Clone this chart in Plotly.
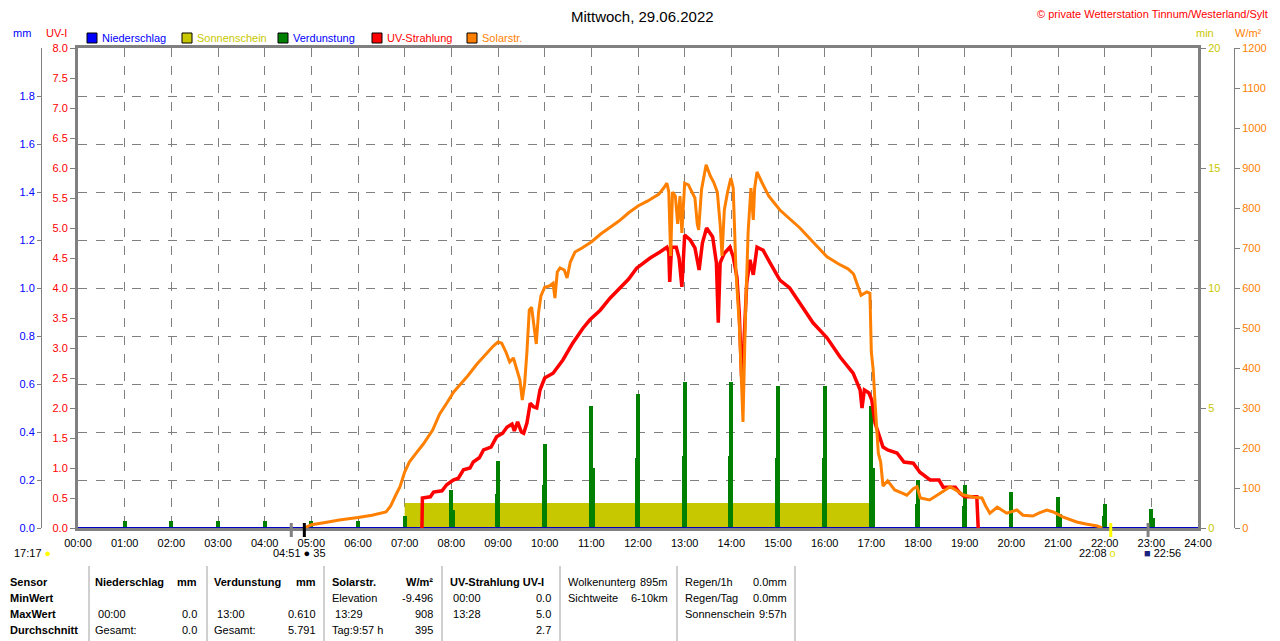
import plotly.graph_objects as go

# Solarstrahlung (W/m²)
solar_h = [4.85, 5.0, 5.3, 5.6, 6.0, 6.3, 6.6, 6.7, 6.8, 6.9, 7.0, 7.1, 7.25, 7.4, 7.6, 7.75, 7.9,
           8.05, 8.2, 8.35, 8.55, 8.75, 8.9, 9.0, 9.08, 9.17, 9.25, 9.33, 9.4, 9.47, 9.52, 9.57,
           9.62, 9.67, 9.72, 9.78, 9.82, 9.87, 9.92, 10.0, 10.1, 10.18, 10.22, 10.27, 10.33, 10.42,
           10.48, 10.55, 10.65, 10.8, 11.0, 11.2, 11.4, 11.6, 11.8, 12.0, 12.2, 12.45, 12.55, 12.62,
           12.66, 12.7, 12.74, 12.8, 12.85, 12.9, 12.94, 13.0, 13.08, 13.15, 13.22, 13.27, 13.3,
           13.36, 13.46, 13.55, 13.62, 13.7, 13.76, 13.8, 13.85, 13.92, 13.99, 14.04, 14.1, 14.17,
           14.25, 14.3, 14.36, 14.42, 14.47, 14.5, 14.55, 14.65, 14.8, 15.04, 15.25, 15.47, 15.75,
           16.05, 16.3, 16.5, 16.62, 16.72, 16.78, 16.9, 16.97, 17.0, 17.04, 17.08, 17.12, 17.15,
           17.2, 17.25, 17.35, 17.5, 17.65, 17.76, 17.9, 17.98, 18.05, 18.25, 18.45, 18.69, 18.85,
           18.96, 19.2, 19.37, 19.45, 19.54, 19.7, 19.9, 20.12, 20.25, 20.46, 20.6, 20.76, 20.9,
           21.1, 21.4, 21.6, 21.84, 21.95]
solar_w = [0, 8, 14, 20, 26, 32, 40, 55, 80, 103, 140, 165, 188, 210, 245, 285, 312,
           340, 360, 380, 410, 437, 455, 465, 462, 440, 415, 425, 400, 370, 320, 360,
           440, 545, 552, 500, 460, 540, 580, 602, 605, 612, 575, 640, 650, 645,
           625, 665, 690, 700, 715, 735, 752, 768, 788, 805, 817, 835, 850, 862,
           840, 680, 840, 830, 760, 830, 738, 862, 858, 840, 825, 760, 745,
           845, 908, 880, 865, 840, 760, 680, 795, 840, 875, 850, 640, 510,
           265, 520, 740, 850, 770, 850, 890, 865, 830, 795, 772, 750, 715,
           678, 660, 648, 635, 600, 582, 590, 587, 440, 395, 312, 253, 187,
           165, 105, 118, 95, 88, 82, 98, 103, 75, 70, 85, 103, 92,
           83, 77, 75, 55, 37, 52, 37, 45, 32, 30, 38, 45, 40,
           28, 15, 10, 5, 0]

# UV-Strahlung (UV-I)
uv_h = [7.37, 7.38, 7.55, 7.62, 7.8, 7.9, 8.04, 8.15, 8.26, 8.4, 8.47, 8.6, 8.69, 8.85, 8.97,
        9.1, 9.19, 9.3, 9.35, 9.42, 9.5, 9.55, 9.62, 9.69, 9.76, 9.83, 9.9, 10.0, 10.18, 10.39,
        10.6, 10.82, 10.97, 11.19, 11.4, 11.61, 11.8, 11.97, 12.26, 12.47, 12.62, 12.66, 12.68,
        12.72, 12.82, 12.88, 12.94, 13.0, 13.12, 13.22, 13.31, 13.38, 13.47, 13.6, 13.68, 13.72,
        13.76, 13.85, 13.97, 14.04, 14.12, 14.17, 14.22, 14.27, 14.33, 14.4, 14.47, 14.55, 14.68,
        14.83, 15.04, 15.25, 15.47, 15.75, 16.05, 16.33, 16.61, 16.76, 16.8, 16.85, 16.95, 17.01,
        17.08, 17.15, 17.25, 17.35, 17.55, 17.7, 17.9, 18.04, 18.26, 18.45, 18.54, 18.8, 18.9,
        19.0, 19.26, 19.29]
uv_i = [0, 0.5, 0.52, 0.6, 0.62, 0.72, 0.8, 0.83, 0.97, 1.0, 1.1, 1.17, 1.3, 1.35, 1.52,
        1.58, 1.68, 1.73, 1.62, 1.77, 1.6, 1.58, 1.75, 2.08, 2.02, 2.0, 2.3, 2.5, 2.58, 2.8,
        3.08, 3.33, 3.47, 3.63, 3.83, 4.0, 4.15, 4.33, 4.5, 4.6, 4.68, 4.6, 4.1,
        4.68, 4.68, 4.5, 4.02, 4.88, 4.8, 4.67, 4.3, 4.75, 5.0, 4.85, 4.42, 3.42,
        4.42, 4.58, 4.68, 4.52, 4.18, 3.58, 2.52, 3.08, 4.08, 4.47, 4.22, 4.68, 4.63,
        4.42, 4.13, 4.0, 3.75, 3.42, 3.17, 2.85, 2.58, 2.3, 2.0, 2.3, 2.25, 2.13,
        1.75, 1.58, 1.35, 1.3, 1.25, 1.1, 1.08, 0.93, 0.8, 0.8, 0.68, 0.68, 0.58,
        0.52, 0.52, 0]

# Verdunstung (mm)
evap_h = list(range(1, 24))
evap_mm = [0.03, 0.03, 0.03, 0.03, 0.03, 0.03, 0.05, 0.16, 0.28, 0.35, 0.51, 0.56,
           0.61, 0.61, 0.59, 0.59, 0.51, 0.20, 0.18, 0.15, 0.13, 0.10, 0.08]
evap2_h = [8.06, 8.95, 9.96, 11.05, 11.96, 12.96, 13.96, 14.96, 15.96, 17.05, 17.96,
           18.96, 21.05, 21.96, 23.05]
evap2_mm = [0.075, 0.14, 0.18, 0.25, 0.29, 0.30, 0.30, 0.29, 0.29, 0.25, 0.10,
            0.09, 0.06, 0.05, 0.04]

# Sonnenschein (min)
sun_h = [7.0, 17.08]
sun_min = [1.04, 1.04]

# Niederschlag (mm)
rain_h = [0, 24]
rain_mm = [0, 0]

hours = list(range(0, 25))
hour_labels = [f"{h:02d}:00" for h in hours]
mm_ticks = [0, 0.2, 0.4, 0.6, 0.8, 1.0, 1.2, 1.4, 1.6, 1.8]
min_ticks = [0, 5, 10, 15, 20]

# Sonnenauf-/untergang Markierungen
mark_h = [4.57, 4.85, 22.13, 22.93]
mark_col = ["#808080", "black", "#FFFF00", "#808080"]

table_rows = [
    ["Sensor", "Niederschlag", "mm", "Verdunstung", "mm", "Solarstr.", "W/m²", "UV-Strahlung UV-I", "",
     "Wolkenunterg", "895m", "Regen/1h", "0.0mm"],
    ["MinWert", "", "", "", "", "Elevation", "-9.496", " 00:00", "0.0",
     "Sichtweite", "6-10km", "Regen/Tag", "0.0mm"],
    ["MaxWert", " 00:00", "0.0", " 13:00", "0.610", " 13:29", "908", " 13:28", "5.0",
     "", "", "Sonnenschein", "9:57h"],
    ["Durchschnitt", "Gesamt:", "0.0", "Gesamt:", "5.791", "Tag:9:57 h", "395", "", "2.7",
     "", "", "", ""],
]

ORANGE = "#FF8000"
RED = "#FF0000"
GREEN = "#008000"
OLIVE = "#C8C800"
BLUE = "#0000FF"
GREY = "#808080"
FONT = "Liberation Sans, Arial, sans-serif"


# the page body shifts the figure by 8px, margins are set so the plot lands where it should
def px(x, y):
    return (x - 20) / 1240, (528 - y) / 480


def ann(text, x, y, color="black", size=11, xanchor="left", bold=False):
    ax, ay = px(x, y)
    if bold:
        text = f"<b>{text}</b>"
    return dict(text=text, x=ax, y=ay, xref="paper", yref="paper", showarrow=False,
                xanchor=xanchor, yanchor="middle", font=dict(color=color, size=size, family=FONT))


fig = go.Figure()

fig.add_trace(go.Scatter(x=sun_h, y=sun_min, mode="none", fill="tozeroy",
                         fillcolor=OLIVE, yaxis="y", name="Sonnenschein"))
fig.add_trace(go.Bar(x=evap_h, y=evap_mm, width=0.08, marker_color=GREEN,
                     marker_line_width=0, yaxis="y2", name="Verdunstung"))
fig.add_trace(go.Bar(x=evap2_h, y=evap2_mm, width=0.05, marker_color=GREEN,
                     marker_line_width=0, yaxis="y2", name="Verdunstung2"))
fig.add_trace(go.Scatter(x=rain_h, y=rain_mm, mode="lines", line=dict(color="#0000C0", width=2),
                         yaxis="y2", name="Niederschlag"))
fig.add_trace(go.Scatter(x=uv_h, y=uv_i, mode="lines", line=dict(color=RED, width=3.5),
                         yaxis="y3", name="UV-Strahlung"))
fig.add_trace(go.Scatter(x=solar_h, y=solar_w, mode="lines", line=dict(color=ORANGE, width=3),
                         yaxis="y4", name="Solarstr."))

tickfont = dict(size=11, family=FONT)

fig.update_layout(
    width=1280, height=641,
    margin=dict(l=12, r=28, t=40, b=121),
    paper_bgcolor="white", plot_bgcolor="white",
    showlegend=False, barmode="overlay", bargap=0,
    font=dict(family=FONT, size=11, color="black"),
    xaxis=dict(domain=[px(78, 0)[0], px(1198, 0)[0]], range=[0, 24], automargin=False,
               tickvals=hours, ticktext=hour_labels, tickfont=dict(tickfont, color="black"),
               ticks="outside", ticklen=3, tickcolor="rgba(0,0,0,0)",
               showgrid=True, gridcolor=GREY, griddash="dash", gridwidth=1,
               showline=True, mirror=True, linecolor=GREY, linewidth=3,
               zeroline=False, layer="below traces", anchor="y3"),
    yaxis=dict(range=[0, 20], side="right", anchor="x", tickvals=min_ticks, automargin=False,
               tickfont=dict(tickfont, color=OLIVE), ticks="outside", ticklen=5, tickcolor=GREY,
               showgrid=False, zeroline=False, showline=True, linecolor=GREY, linewidth=3,
               layer="below traces"),
    yaxis2=dict(range=[0, 2], overlaying="y", side="left", anchor="free", position=px(41, 0)[0],
                tickvals=mm_ticks, tickformat=".1f", tickfont=dict(tickfont, color=BLUE),
                ticks="outside", ticklen=4, tickcolor=GREY, automargin=False,
                showgrid=True, gridcolor=GREY, griddash="dash", gridwidth=1,
                zeroline=False, showline=True, linecolor=GREY, linewidth=1),
    yaxis3=dict(range=[0, 8], overlaying="y", side="left", anchor="x", dtick=0.5,
                tickformat=".1f", tickfont=dict(tickfont, color=RED), automargin=False,
                ticks="outside", ticklen=5, tickcolor=GREY, showgrid=False, zeroline=False,
                showline=True, linecolor=GREY, linewidth=3, layer="below traces"),
    yaxis4=dict(range=[0, 1200], overlaying="y", side="right", anchor="free", automargin=False,
                position=px(1234, 0)[0], dtick=100, tickfont=dict(tickfont, color=ORANGE),
                ticks="outside", ticklen=5, tickcolor=GREY, showgrid=False, zeroline=False,
                showline=True, linecolor=GREY, linewidth=1),
)

annotations = [
    ann("Mittwoch, 29.06.2022", 642, 16, size=15, xanchor="center"),
    ann("© private Wetterstation Tinnum/Westerland/Sylt", 1270, 14, color=RED, xanchor="right"),
    ann("mm", 22, 33, color=BLUE, xanchor="center"),
    ann("UV-I", 56, 33, color=RED, xanchor="center"),
    ann("min", 1205, 33, color=OLIVE, xanchor="center"),
    ann("W/m²", 1248, 33, color=ORANGE, xanchor="center"),
]

shapes = []
legend_items = [("Niederschlag", BLUE, BLUE, 87), ("Sonnenschein", OLIVE, OLIVE, 182),
                ("Verdunstung", GREEN, BLUE, 278), ("UV-Strahlung", RED, RED, 372),
                ("Solarstr.", ORANGE, ORANGE, 467)]
for label, box, txt, x0 in legend_items:
    bx0, by0 = px(x0, 43)
    bx1, by1 = px(x0 + 10, 33)
    shapes.append(dict(type="rect", xref="paper", yref="paper", x0=bx0, y0=by0, x1=bx1, y1=by1,
                       fillcolor=box, line=dict(color="black", width=1)))
    annotations.append(ann(label, x0 + 13, 38, color=txt))

for h, c in zip(mark_h, mark_col):
    shapes.append(dict(type="line", xref="x", yref="paper", x0=h, x1=h,
                       y0=px(0, 537)[1], y1=px(0, 523)[1], line=dict(color=c, width=3)))

annotations += [
    ann("17:17 <span style='color:#FFFF00'>●</span>", 12, 553),
    ann("04:51 ● 35", 271, 553),
    ann("22:08 <span style='color:#E0E000'>o</span>", 1077, 553),
    ann("<span style='color:#1A237E'>■</span> 22:56", 1142, 553),
]

# Tabelle unten
col_x = [8, 93, 199, 212, 318, 330, 435, 448, 553, 566, 670, 683, 789]
col_anchor = ["left", "left", "right", "left", "right", "left", "right", "left", "right",
              "left", "right", "left", "right"]
row_y = [582, 598, 614, 630]
for r, row in enumerate(table_rows):
    for c, cell in enumerate(row):
        if not cell:
            continue
        bold = (c == 0) or (r == 0 and c <= 8)
        annotations.append(ann(cell, col_x[c], row_y[r], xanchor=col_anchor[c], bold=bold))

for x in [89, 207, 324, 442, 560, 677, 795]:
    x0, y0 = px(x, 641)
    x1, y1 = px(x, 566)
    shapes.append(dict(type="line", xref="paper", yref="paper", x0=x0, x1=x1, y0=y0, y1=y1,
                       line=dict(color="#A0A0A0", width=1)))

fig.update_layout(annotations=annotations, shapes=shapes)

fig.write_html("out.html")
